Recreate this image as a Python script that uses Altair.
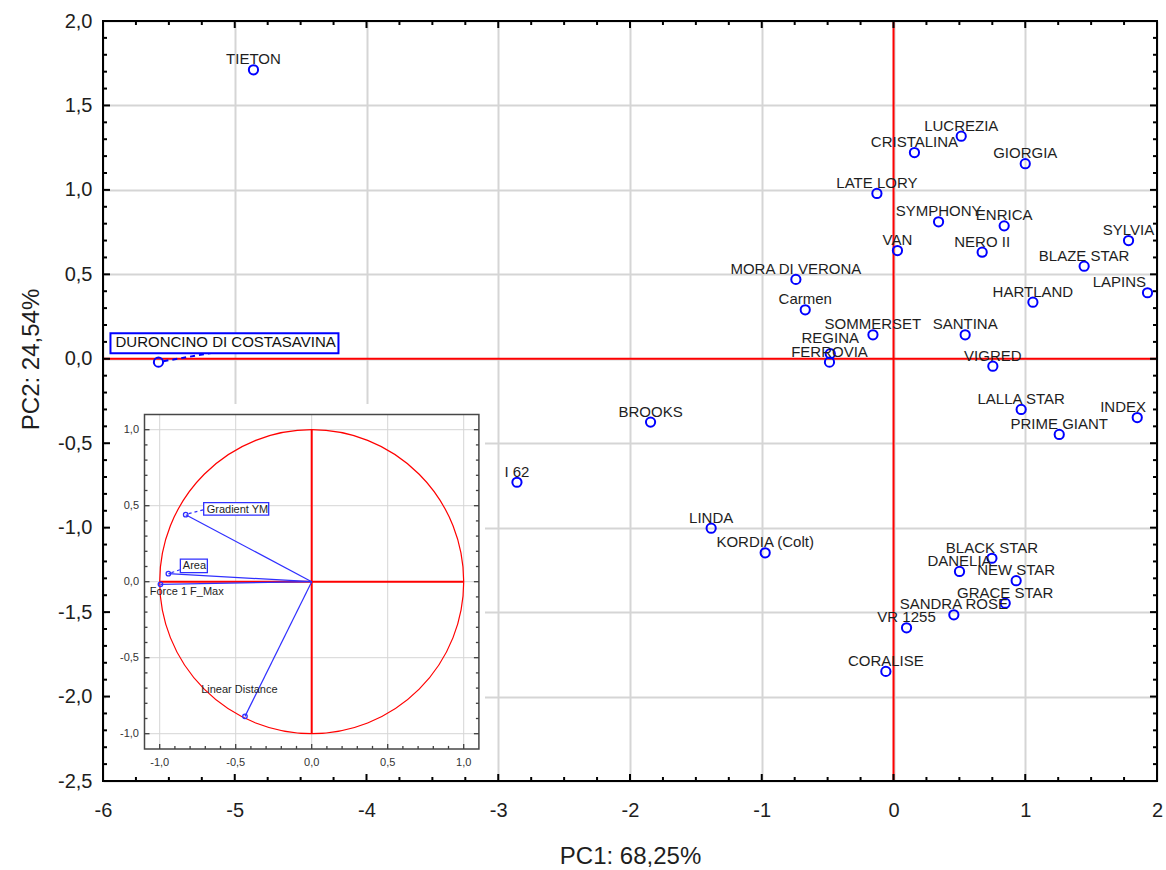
import altair as alt
import numpy as np
import pandas as pd

# ---------------------------------------------------------------- data
# PCA scores of the cherry cultivars (PC1, PC2)
cultivars = [
    "TIETON", "DURONCINO DI COSTASAVINA", "LUCREZIA", "CRISTALINA", "GIORGIA",
    "LATE LORY", "SYMPHONY", "ENRICA", "SYLVIA", "VAN", "NERO II", "BLAZE STAR",
    "MORA DI VERONA", "LAPINS", "HARTLAND", "Carmen", "SOMMERSET", "SANTINA",
    "REGINA", "FERROVIA", "VIGRED", "LALLA STAR", "INDEX", "PRIME GIANT",
    "BROOKS", "I 62", "LINDA", "KORDIA (Colt)", "BLACK STAR", "DANELIA",
    "NEW STAR", "GRACE STAR", "SANDRA ROSE", "VR 1255", "CORALISE",
]
pc1 = [
    -4.858, -5.579, 0.514, 0.159, 1.000,
    -0.126, 0.342, 0.840, 1.784, 0.030, 0.673, 1.447,
    -0.741, 1.928, 1.058, -0.670, -0.156, 0.544,
    -0.480, -0.486, 0.754, 0.969, 1.850, 1.258,
    -1.844, -2.858, -1.384, -0.974, 0.747, 0.501,
    0.931, 0.848, 0.458, 0.099, -0.058,
]
pc2 = [
    1.711, -0.020, 1.318, 1.221, 1.155,
    0.979, 0.811, 0.787, 0.700, 0.641, 0.631, 0.548,
    0.470, 0.391, 0.335, 0.290, 0.142, 0.142,
    0.030, -0.020, -0.044, -0.300, -0.348, -0.448,
    -0.375, -0.731, -1.003, -1.149, -1.181, -1.259,
    -1.314, -1.447, -1.516, -1.593, -1.851,
]

# loadings of the measured variables on PC1 / PC2
variables = ["Gradient YM", "Area", "Force 1 F_Max", "Linear Distance"]
loading1 = [-0.829, -0.943, -0.995, -0.439]
loading2 = [0.441, 0.053, -0.017, -0.886]

# axis ticks
x_ticks = [-6, -5, -4, -3, -2, -1, 0, 1, 2]
y_ticks = [-2.5, -2.0, -1.5, -1.0, -0.5, 0.0, 0.5, 1.0, 1.5, 2.0]
inset_ticks = [-1.0, -0.5, 0.0, 0.5, 1.0]
inset_tick_labels = ["-1,0", "-0,5", "0,0", "0,5", "1,0"]

# ---------------------------------------------------------------- layout / style
W, H = 1054, 760
PADDING = {"left": 103, "top": 21, "right": 9, "bottom": 89}
X_DOMAIN = [-6, 2]
Y_DOMAIN = [-2.5, 2.0]

# loading-circle panel, in pixels inside the plot area
I_DOMAIN = [-1.1, 1.1]
IX0, IX1 = 41.5, 375.9
IY0, IY1 = 393.5, 727.9
I_BG = (3, 382, 383, H)

FONT = "Liberation Sans"
INK = "#1e1e1e"
BLUE = "#0000ff"
VEC_BLUE = "#2f2fff"
RED = "#ff0000"
GRID = "#d5d5d5"

BOXED = "DURONCINO DI COSTASAVINA"
EDGE_LABELS = ["LAPINS", "INDEX"]
RAISED_LABELS = ["REGINA"]


def js_list(items):
    return "[" + ",".join("'" + s.replace("'", "\\'") + "'" for s in items) + "]"


def edge_ticks(values, side, edge, sx_, sy_, length, color, width):
    """Inward-pointing tick marks along one side of a frame."""
    d = pd.DataFrame({"v": values, "e": [edge] * len(values)})
    if side in ("bottom", "top"):
        off = -length if side == "bottom" else length
        return alt.Chart(d).mark_rule(color=color, strokeWidth=width, y2Offset=off).encode(
            x=alt.X("v:Q", scale=sx_, axis=None),
            y=alt.Y("e:Q", scale=sy_, axis=None),
            y2="e:Q",
        )
    off = length if side == "left" else -length
    return alt.Chart(d).mark_rule(color=color, strokeWidth=width, x2Offset=off).encode(
        y=alt.Y("v:Q", scale=sy_, axis=None),
        x=alt.X("e:Q", scale=sx_, axis=None),
        x2="e:Q",
    )


# ---------------------------------------------------------------- score plot
scores = pd.DataFrame({"cultivar": cultivars, "pc1": pc1, "pc2": pc2})
sx = alt.Scale(domain=X_DOMAIN, nice=False, zero=False)
sy = alt.Scale(domain=Y_DOMAIN, nice=False, zero=False)

axis_common = dict(
    grid=True, gridColor=GRID, gridWidth=2, ticks=False, domain=False,
    labelFont=FONT, labelFontSize=20, labelColor=INK, labelFlush=False, labelOverlap=False,
    titleFont=FONT, titleFontSize=24, titleFontWeight="normal", titleColor=INK,
)
x_axis = alt.Axis(
    values=x_ticks,
    labelExpr="(datum.value < 0 ? '-' : '') + format(abs(datum.value), 'd')",
    labelPadding=35, labelBaseline="alphabetic",
    title="PC1: 68,25%", titleY=82, titleBaseline="alphabetic",
    **axis_common,
)
y_axis = alt.Axis(
    values=y_ticks,
    labelExpr="(datum.value < 0 ? '-' : '') + replace(format(abs(datum.value), '.1f'), '.', ',')",
    labelPadding=11,
    title="PC2: 24,54%", titleAngle=270, titleX=-65, titleY=338,
    titleAlign="center", titleBaseline="alphabetic",
    **axis_common,
)

# the grid, tick labels and titles live on this layer, together with the red zero lines
origin = pd.DataFrame({"zero": [0.0]})
red_zero = alt.layer(
    alt.Chart(origin).mark_rule(color=RED, strokeWidth=2).encode(
        x=alt.X("zero:Q", scale=sx, axis=x_axis)),
    alt.Chart(origin).mark_rule(color=RED, strokeWidth=2).encode(
        y=alt.Y("zero:Q", scale=sy, axis=y_axis)),
)

base = alt.Chart(scores).encode(
    x=alt.X("pc1:Q", scale=sx, axis=None),
    y=alt.Y("pc2:Q", scale=sy, axis=None),
)
boxed = base.transform_filter(f"datum.cultivar == '{BOXED}'")

box_rect = boxed.mark_rect(
    fill="white", stroke=BLUE, strokeWidth=2,
    xOffset=-48, x2Offset=180, yOffset=-29, y2Offset=-9,
).encode(x2="pc1:Q", y2="pc2:Q")
box_link = boxed.mark_rule(
    color=BLUE, strokeWidth=2, strokeDash=[5, 4],
    xOffset=5, yOffset=-1, x2Offset=55, y2Offset=-9.5,
).encode(x2="pc1:Q", y2="pc2:Q")
box_text = boxed.mark_text(
    align="left", baseline="alphabetic", dx=-43, dy=-15,
    font=FONT, fontSize=15, color="#111111",
).encode(text="cultivar:N")

points = base.mark_point(
    shape="circle", filled=False, size=85, strokeWidth=2, color=BLUE, opacity=1)

special = js_list(EDGE_LABELS + RAISED_LABELS + [BOXED])
text_style = dict(baseline="alphabetic", font=FONT, fontSize=15, color=INK)
labels = base.transform_filter(f"indexof({special}, datum.cultivar) < 0").mark_text(
    align="center", dy=-5.5, **text_style).encode(text="cultivar:N")
raised_labels = base.transform_filter(
    f"indexof({js_list(RAISED_LABELS)}, datum.cultivar) >= 0"
).mark_text(align="center", dy=-11, **text_style).encode(text="cultivar:N")
edge_labels = alt.Chart(scores).transform_filter(
    f"indexof({js_list(EDGE_LABELS)}, datum.cultivar) >= 0"
).mark_text(align="right", dx=-11, dy=-5.5, **text_style).encode(
    x=alt.value(W),
    y=alt.Y("pc2:Q", scale=sy, axis=None),
    text="cultivar:N",
)

score_layers = [box_link, box_rect, box_text, points, labels, raised_labels, edge_labels]

# ---------------------------------------------------------------- loading circle panel
isx = alt.Scale(domain=I_DOMAIN, range=[IX0, IX1], nice=False, zero=False)
isy = alt.Scale(domain=I_DOMAIN, range=[IY1, IY0], nice=False, zero=False)
R_PX = (IX1 - IX0) / (I_DOMAIN[1] - I_DOMAIN[0])   # pixels per unit loading

panel = pd.DataFrame({"lo": [I_DOMAIN[0]], "hi": [I_DOMAIN[1]], "zero": [0.0]})
inset_bg = alt.Chart(panel).mark_rect(fill="white").encode(
    x=alt.value(I_BG[0]), x2=alt.value(I_BG[1]), y=alt.value(I_BG[2]), y2=alt.value(I_BG[3]))

igrid = pd.DataFrame({"g": inset_ticks, "lo": I_DOMAIN[0], "hi": I_DOMAIN[1]})
igrid_v = alt.Chart(igrid).mark_rule(color=GRID, strokeWidth=1).encode(
    x=alt.X("g:Q", scale=isx, axis=None), y=alt.Y("lo:Q", scale=isy, axis=None), y2="hi:Q")
igrid_h = alt.Chart(igrid).mark_rule(color=GRID, strokeWidth=1).encode(
    y=alt.Y("g:Q", scale=isy, axis=None), x=alt.X("lo:Q", scale=isx, axis=None), x2="hi:Q")

iframe = alt.Chart(panel).mark_rect(fillOpacity=0, stroke="#474747", strokeWidth=1.5).encode(
    x=alt.X("lo:Q", scale=isx, axis=None), x2="hi:Q",
    y=alt.Y("lo:Q", scale=isy, axis=None), y2="hi:Q")

# correlation circle of radius 1 (Vega circle symbol: size = diameter^2)
unit_circle = alt.Chart(panel).mark_point(
    shape="circle", filled=False, size=(2 * R_PX) ** 2, color=RED, strokeWidth=1.2, opacity=1,
).encode(x=alt.X("zero:Q", scale=isx, axis=None), y=alt.Y("zero:Q", scale=isy, axis=None))

cross = pd.DataFrame({"x0": [-1.0, 0.0], "x1": [1.0, 0.0], "y0": [0.0, -1.0], "y1": [0.0, 1.0]})
red_cross = alt.Chart(cross).mark_rule(color=RED, strokeWidth=2).encode(
    x=alt.X("x0:Q", scale=isx, axis=None), x2="x1:Q",
    y=alt.Y("y0:Q", scale=isy, axis=None), y2="y1:Q")

loads = pd.DataFrame({"name": variables, "l1": loading1, "l2": loading2, "zero": 0.0})
vbase = alt.Chart(loads).encode(
    x=alt.X("l1:Q", scale=isx, axis=None), y=alt.Y("l2:Q", scale=isy, axis=None))
vectors = alt.Chart(loads).mark_rule(color=VEC_BLUE, strokeWidth=1.2).encode(
    x=alt.X("zero:Q", scale=isx, axis=None), x2="l1:Q",
    y=alt.Y("zero:Q", scale=isy, axis=None), y2="l2:Q")
tips = vbase.mark_point(shape="circle", filled=False, size=20, strokeWidth=1.3, color=VEC_BLUE, opacity=1)


def vname(n):
    return vbase.transform_filter(f"datum.name == '{n}'")


lab_style = dict(font=FONT, fontSize=11, color=INK, baseline="alphabetic")
grad_box = vname("Gradient YM").mark_rect(
    fill="white", stroke=VEC_BLUE, strokeWidth=1.3,
    xOffset=18, x2Offset=83, yOffset=-12, y2Offset=0.5,
).encode(x2="l1:Q", y2="l2:Q")
grad_link = vname("Gradient YM").mark_rule(
    color=VEC_BLUE, strokeWidth=1.2, strokeDash=[3, 3],
    xOffset=3, yOffset=-1, x2Offset=18, y2Offset=-5,
).encode(x2="l1:Q", y2="l2:Q")
grad_text = vname("Gradient YM").mark_text(align="left", dx=21, dy=-2, **lab_style).encode(text="name:N")

area_box = vname("Area").mark_rect(
    fill="white", stroke=VEC_BLUE, strokeWidth=1.3,
    xOffset=12, x2Offset=39, yOffset=-14.5, y2Offset=-1,
).encode(x2="l1:Q", y2="l2:Q")
area_link = vname("Area").mark_rule(
    color=VEC_BLUE, strokeWidth=1.2, strokeDash=[3, 3],
    xOffset=3, yOffset=-1, x2Offset=12, y2Offset=-4,
).encode(x2="l1:Q", y2="l2:Q")
area_text = vname("Area").mark_text(align="left", dx=14.5, dy=-4.3, **lab_style).encode(text="name:N")

force_text = vname("Force 1 F_Max").mark_text(align="left", dx=-10.7, dy=10.3, **lab_style).encode(text="name:N")
lin_text = vname("Linear Distance").mark_text(align="center", dx=-5.6, dy=-23.4, **lab_style).encode(text="name:N")

itick_df = pd.DataFrame({"v": inset_ticks, "t": inset_tick_labels, "lo": I_DOMAIN[0]})
ixlab = alt.Chart(itick_df).mark_text(
    align="center", baseline="middle", dy=14.5, font=FONT, fontSize=11, color="#333333",
).encode(x=alt.X("v:Q", scale=isx, axis=None), y=alt.Y("lo:Q", scale=isy, axis=None), text="t:N")
iylab = alt.Chart(itick_df).mark_text(
    align="right", baseline="middle", dx=-5.5, font=FONT, fontSize=11, color="#333333",
).encode(y=alt.Y("v:Q", scale=isy, axis=None), x=alt.X("lo:Q", scale=isx, axis=None), text="t:N")

i_minor = [v for v in np.round(np.arange(-1.0, 1.0001, 0.1), 2).tolist() if v not in inset_ticks]
inset_tick_layers = []
for side, edge in (("bottom", I_DOMAIN[0]), ("left", I_DOMAIN[0]), ("right", I_DOMAIN[1])):
    inset_tick_layers.append(edge_ticks(inset_ticks, side, edge, isx, isy, 5, "#404040", 1.3))
    inset_tick_layers.append(edge_ticks(i_minor, side, edge, isx, isy, 3, "#404040", 1.3))

inset_layers = [
    inset_bg, igrid_v, igrid_h, unit_circle, red_cross, vectors, tips,
    grad_link, grad_box, grad_text, area_link, area_box, area_text, force_text, lin_text,
    ixlab, iylab, iframe, *inset_tick_layers,
]

# ---------------------------------------------------------------- frame with inward ticks
x_minor = [v for v in np.arange(-6, 2.0001, 0.25).tolist() if v not in x_ticks]
y_minor = [v for v in np.round(np.arange(-2.5, 2.0001, 0.1), 2).tolist()
           if not any(abs(v - t) < 1e-9 for t in y_ticks)]

frame_df = pd.DataFrame({"x0": [X_DOMAIN[0]], "x1": [X_DOMAIN[1]], "y0": [Y_DOMAIN[0]], "y1": [Y_DOMAIN[1]]})
frame = alt.Chart(frame_df).mark_rect(fillOpacity=0, stroke="black", strokeWidth=2).encode(
    x=alt.X("x0:Q", scale=sx, axis=None), x2="x1:Q",
    y=alt.Y("y0:Q", scale=sy, axis=None), y2="y1:Q")

frame_layers = [frame]
for side, edge in (("bottom", Y_DOMAIN[0]), ("top", Y_DOMAIN[1])):
    frame_layers.append(edge_ticks(x_ticks, side, edge, sx, sy, 7, "black", 2))
    frame_layers.append(edge_ticks(x_minor, side, edge, sx, sy, 4, "black", 2))
for side, edge in (("left", X_DOMAIN[0]), ("right", X_DOMAIN[1])):
    frame_layers.append(edge_ticks(y_ticks, side, edge, sx, sy, 7, "black", 2))
    frame_layers.append(edge_ticks(y_minor, side, edge, sx, sy, 4, "black", 2))

# ---------------------------------------------------------------- assemble
# the main layers share their scales; the loading panel gets scales of its own
chart = (
    alt.layer(red_zero, alt.layer(*score_layers), alt.layer(*inset_layers), alt.layer(*frame_layers))
    .resolve_scale(x="independent", y="independent")
    .properties(
        width=W, height=H,
        autosize=alt.AutoSizeParams(type="none"),
        padding=PADDING,
        background="white",
    )
    .configure_view(stroke=None)
)

chart.save("out.html", embed_options={"renderer": "svg", "actions": False})
